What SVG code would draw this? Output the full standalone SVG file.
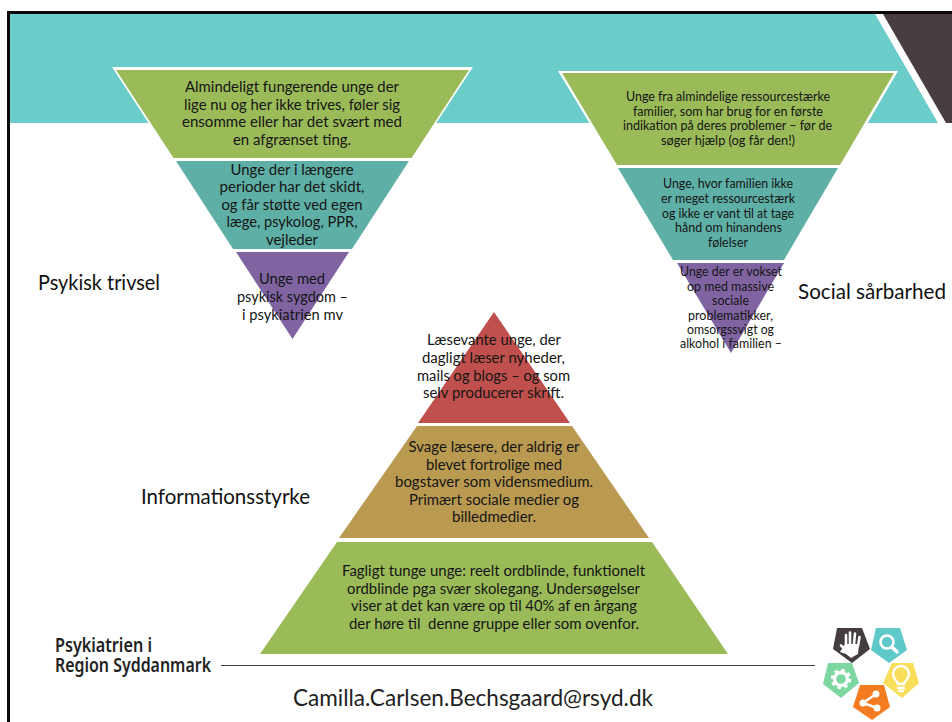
<svg xmlns="http://www.w3.org/2000/svg" width="952" height="722" viewBox="0 0 952 722">
<style>
text{font-family:"Lato","Noto Sans","Liberation Sans",sans-serif;fill:#151515;text-anchor:middle;white-space:pre}
.a{font-size:15.6px}
.b{font-size:13.8px}
.l{font-size:22px;fill:#111}
.e{font-size:23px;fill:#222}
.g{fill:none;stroke:#fff;stroke-linecap:round}
.w{fill:#fff}
</style>
<rect width="952" height="722" fill="#fff"/>
<g id="background">
<polygon points="10,14 875,14 938,123 10,123" fill="#6BCDC9"/>
<polygon points="883,14 952,14 952,123 946,123" fill="#483E3F"/>
<rect x="7" y="11" width="945" height="3" fill="#0a0a0a"/>
<rect x="7" y="11" width="3" height="711" fill="#0a0a0a"/>
</g>
<g id="psykisk-trivsel">
<polygon points="112,67 473,67 292,343" fill="#fff"/>
<g id="pt-top"><polygon points="116,70 469,70 411.500,158 173.500,158" fill="#9BBB59"/>
<text class="a" x="292" y="92" textLength="214" lengthAdjust="spacingAndGlyphs">Almindeligt fungerende unge der</text>
<text class="a" x="292" y="110" textLength="216" lengthAdjust="spacingAndGlyphs">lige nu og her ikke trives, føler sig</text>
<text class="a" x="292" y="127" textLength="220" lengthAdjust="spacingAndGlyphs">ensomme eller har det svært med</text>
<text class="a" x="292" y="145" textLength="118" lengthAdjust="spacingAndGlyphs">en afgrænset ting.</text></g>
<g id="pt-mid"><polygon points="176,161 409,161 352,249 233,249" fill="#5EAFA6"/>
<text class="a" x="292" y="175" textLength="123" lengthAdjust="spacingAndGlyphs">Unge der i længere</text>
<text class="a" x="292" y="192" textLength="145" lengthAdjust="spacingAndGlyphs">perioder har det skidt,</text>
<text class="a" x="292" y="210" textLength="141" lengthAdjust="spacingAndGlyphs">og får støtte ved egen</text>
<text class="a" x="292" y="227" textLength="131" lengthAdjust="spacingAndGlyphs">læge, psykolog, PPR,</text>
<text class="a" x="292" y="245" textLength="52" lengthAdjust="spacingAndGlyphs">vejleder</text></g>
<g id="pt-low"><polygon points="236,252 349,252 292.500,339" fill="#8064A2"/>
<text class="a" x="292" y="284" textLength="66" lengthAdjust="spacingAndGlyphs">Unge med</text>
<text class="a" x="292.500" y="302" textLength="111" lengthAdjust="spacingAndGlyphs">psykisk sygdom –</text>
<text class="a" x="292.500" y="320" textLength="101" lengthAdjust="spacingAndGlyphs">i psykiatrien mv</text></g>
<text class="l" x="99" y="290" textLength="122" lengthAdjust="spacingAndGlyphs">Psykisk trivsel</text>
</g>
<g id="social-saarbarhed">
<polygon points="558,71 898,71 731,357" fill="#fff"/>
<g id="ss-top"><polygon points="562,73 894,73 840,165 617,165" fill="#9BBB59"/>
<text class="b" x="728" y="101" textLength="204" lengthAdjust="spacingAndGlyphs">Unge fra almindelige ressourcestærke</text>
<text class="b" x="728" y="116" textLength="190" lengthAdjust="spacingAndGlyphs">familier, som har brug for en første</text>
<text class="b" x="727.500" y="130" textLength="209" lengthAdjust="spacingAndGlyphs">indikation på deres problemer – før de</text>
<text class="b" x="728" y="145" textLength="134" lengthAdjust="spacingAndGlyphs">søger hjælp (og får den!)</text></g>
<g id="ss-mid"><polygon points="618,168 838,168 784,260 673,260" fill="#5EAFA6"/>
<text class="b" x="728" y="188" textLength="130" lengthAdjust="spacingAndGlyphs">Unge, hvor familien ikke</text>
<text class="b" x="728" y="203" textLength="134" lengthAdjust="spacingAndGlyphs">er meget ressourcestærk</text>
<text class="b" x="728" y="218" textLength="132" lengthAdjust="spacingAndGlyphs">og ikke er vant til at tage</text>
<text class="b" x="728.500" y="232" textLength="107" lengthAdjust="spacingAndGlyphs">hånd om hinandens</text>
<text class="b" x="728" y="247" textLength="40" lengthAdjust="spacingAndGlyphs">følelser</text></g>
<g id="ss-low"><polygon points="677,263 784,263 731,353" fill="#8064A2"/>
<text class="b" x="731" y="276" textLength="102" lengthAdjust="spacingAndGlyphs">Unge der er vokset</text>
<text class="b" x="730.500" y="291" textLength="87" lengthAdjust="spacingAndGlyphs">op med massive</text>
<text class="b" x="730.500" y="305" textLength="37" lengthAdjust="spacingAndGlyphs">sociale</text>
<text class="b" x="730.500" y="320" textLength="85" lengthAdjust="spacingAndGlyphs">problematikker,</text>
<text class="b" x="730.500" y="334" textLength="87" lengthAdjust="spacingAndGlyphs">omsorgssvigt og</text>
<text class="b" x="731" y="348" textLength="102" lengthAdjust="spacingAndGlyphs">alkohol i familien –</text></g>
<text class="l" x="872" y="299" textLength="148" lengthAdjust="spacingAndGlyphs">Social sårbarhed</text>
</g>
<g id="informationsstyrke">
<g id="is-top"><polygon points="494,312 570,423 418,423" fill="#C0504D"/>
<text class="a" x="494" y="345" textLength="134" lengthAdjust="spacingAndGlyphs">Læsevante unge, der</text>
<text class="a" x="493.500" y="363" textLength="143" lengthAdjust="spacingAndGlyphs">dagligt læser nyheder,</text>
<text class="a" x="493.500" y="381" textLength="153" lengthAdjust="spacingAndGlyphs">mails og blogs – og som</text>
<text class="a" x="493.500" y="398" textLength="141" lengthAdjust="spacingAndGlyphs">selv producerer skrift.</text></g>
<g id="is-mid"><polygon points="417,426 572,426 649,538 339,538" fill="#BA9A50"/>
<text class="a" x="494" y="452" textLength="171" lengthAdjust="spacingAndGlyphs">Svage læsere, der aldrig er</text>
<text class="a" x="494" y="470" textLength="136" lengthAdjust="spacingAndGlyphs">blevet fortrolige med</text>
<text class="a" x="494" y="487" textLength="198" lengthAdjust="spacingAndGlyphs">bogstaver som vidensmedium.</text>
<text class="a" x="494" y="505" textLength="170" lengthAdjust="spacingAndGlyphs">Primært sociale medier og</text>
<text class="a" x="494" y="522" textLength="84" lengthAdjust="spacingAndGlyphs">billedmedier.</text></g>
<g id="is-low"><polygon points="337,542 652,542 728,654 260,654" fill="#9BBB59"/>
<text class="a" x="493.500" y="576" textLength="303" lengthAdjust="spacingAndGlyphs">Fagligt tunge unge: reelt ordblinde, funktionelt</text>
<text class="a" x="493.500" y="594" textLength="293" lengthAdjust="spacingAndGlyphs">ordblinde pga svær skolegang. Undersøgelser</text>
<text class="a" x="494" y="611" textLength="286" lengthAdjust="spacingAndGlyphs">viser at det kan være op til 40% af en årgang</text>
<text class="a" x="494" y="629" textLength="290" lengthAdjust="spacingAndGlyphs">der høre til  denne gruppe eller som ovenfor.</text></g>
<text class="l" x="225.500" y="504" textLength="169" lengthAdjust="spacingAndGlyphs">Informationsstyrke</text>
</g>
<g id="connectors">
<line x1="221" y1="665.500" x2="815" y2="665.500" stroke="#404040" stroke-width="1"/>
</g>
<g id="footer">
<text x="55" y="652" textLength="97" lengthAdjust="spacingAndGlyphs" style="text-anchor:start;font-family:'Noto Sans',sans-serif;font-weight:600;font-size:20px;fill:#222">Psykiatrien i</text>
<text x="55" y="672" textLength="156" lengthAdjust="spacingAndGlyphs" style="text-anchor:start;font-family:'Noto Sans',sans-serif;font-weight:600;font-size:20px;fill:#222">Region Syddanmark</text>
<text class="e" x="473" y="706" textLength="360" lengthAdjust="spacingAndGlyphs">Camilla.Carlsen.Bechsgaard@rsyd.dk</text>
</g>
<g id="logo">
<g id="logo-hand"><polygon points="837,628 862,628 870,649 852,663 833,649" fill="#433D3F"/>
<path class="g" stroke-width="2.600" d="M846,645V635M850,644V632.500M854,644L855,633.500M858,646L859.500,637M847,651L841,645.500"/>
<path class="w" d="M845,644H859L858,654L851,658L846,654L840,652Z"/></g>
<g id="logo-search"><polygon points="876,628 900,628 907,650 889,663 871,650" fill="#5FC9C9"/>
<circle class="g" cx="887" cy="642" r="6.500" stroke-width="2.600"/><path class="g" stroke-width="3.500" d="M892,647L897,652"/></g>
<g id="logo-gear"><polygon points="828,663 852,663 859,683 841,698 823,684" fill="#7ED6A0"/>
<circle class="g" cx="841" cy="679" r="6.500" stroke-width="3.400"/><circle cx="841" cy="679" r="9" fill="none" stroke="#fff" stroke-width="2.600" stroke-dasharray="3.500 3.570"/></g>
<g id="logo-bulb"><polygon points="892,663 913,663 919,683 902,698 883,683" fill="#F9DE59"/>
<path class="g" stroke-width="2.400" d="M898,684C897,680 893,679 893,674A8,8 0 0 1 909,674C909,679 905,680 904,684Z"/><path class="g" stroke-width="2.400" d="M898,688H904M899,691H903"/></g>
<g id="logo-share"><polygon points="860,685 884,685 890,707 872,720 853,707" fill="#F47B20"/>
<path class="g" stroke-width="2.400" d="M876,694L863,703L877,708"/><circle class="w" cx="876" cy="694" r="3.500"/><circle class="w" cx="863" cy="703" r="3.500"/><circle class="w" cx="877" cy="708" r="3.500"/></g>
</g>
</svg>
